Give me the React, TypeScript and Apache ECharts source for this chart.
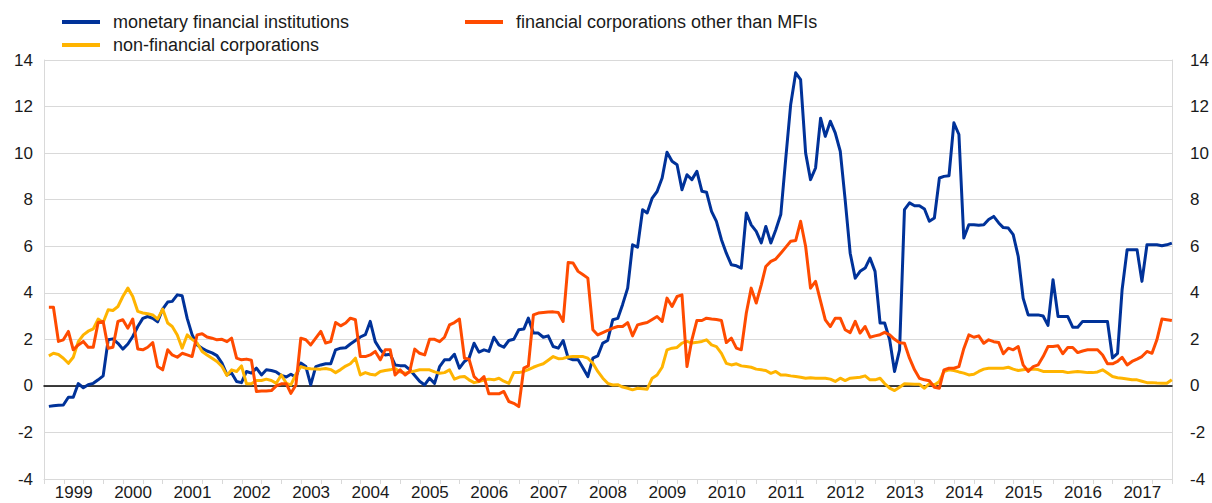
import React, { useEffect, useRef } from "react";
import * as echarts from "echarts";

// monthly observations, January 1999 to December 2017
const START_YEAR = 1999;

const mfi = [
  -0.88, -0.85, -0.83, -0.82, -0.49, -0.49, 0.1, -0.08, 0.05, 0.11, 0.26, 0.43,
  1.98, 2.02, 1.83, 1.58, 1.8, 2.12, 2.55, 2.9, 2.98, 2.9, 2.75, 3.3,
  3.6, 3.63, 3.91, 3.87, 2.9, 2.2, 1.76, 1.62, 1.5, 1.42, 1.3, 0.98,
  0.47, 0.55, 0.19, 0.14, 0.62, 0.55, 0.76, 0.47, 0.69, 0.66, 0.6, 0.45,
  0.38, 0.5, 0.37, 0.98, 0.83, 0.04, 0.83, 0.9, 0.95, 0.95, 1.55, 1.62,
  1.64, 1.8, 1.95, 2.1, 2.2, 2.77, 1.9, 1.55, 1.33, 1.36, 0.9, 0.87,
  0.86, 0.7, 0.45, 0.2, 0.04, 0.33, 0.11, 0.83, 1.12, 1.12, 1.36, 0.76,
  1.05, 1.19, 1.83, 1.45, 1.55, 1.48, 2.09, 1.76, 1.66, 1.95, 2.0, 2.41,
  2.44, 2.91, 2.27, 2.27, 2.09, 2.15, 1.69, 1.62, 1.95, 1.19, 1.12, 1.12,
  0.76, 0.4, 1.19, 1.29, 1.84, 1.95, 2.84, 2.9, 3.5, 4.2, 6.06, 5.96,
  7.57, 7.43, 8.07, 8.35, 8.93, 10.04, 9.65, 9.5, 8.43, 9.07, 8.86, 9.22,
  8.36, 8.32, 7.5, 7.07, 6.28, 5.7, 5.2, 5.16, 5.06, 7.43, 6.92, 6.64,
  6.14, 6.85, 6.14, 6.7, 7.36, 9.72, 12.09, 13.45, 13.16, 10.0, 8.86, 9.36,
  11.5, 10.72, 11.37, 10.87, 10.08, 8.0, 5.7, 4.63, 4.92, 5.06, 5.49, 4.92,
  2.7, 2.7, 1.98, 0.62, 1.55, 7.57, 7.86, 7.74, 7.74, 7.6, 7.07, 7.21,
  8.93, 9.0, 9.03, 11.3, 10.8, 6.35, 6.92, 6.92, 6.9, 6.92, 7.15, 7.28,
  7.0, 6.8, 6.78, 6.5, 5.56, 3.77, 3.05, 3.05, 3.05, 3.0, 2.6, 4.56,
  2.98, 2.98, 2.98, 2.52, 2.52, 2.77, 2.77, 2.77, 2.77, 2.77, 2.77, 1.2,
  1.4, 4.13, 5.85, 5.85, 5.85, 4.49, 6.06, 6.06, 6.06, 6.02, 6.06, 6.13,
];

const nfc = [
  1.29, 1.4, 1.35, 1.19, 0.97, 1.23, 1.9, 2.19, 2.35, 2.45, 2.87, 2.72,
  3.27, 3.24, 3.41, 3.84, 4.2, 3.84, 3.2, 3.13, 3.1, 3.05, 2.87, 3.3,
  2.7, 2.55, 2.19, 1.62, 2.19, 2.0, 1.84, 1.48, 1.33, 1.19, 1.05, 0.83,
  0.45, 0.69, 0.62, 0.86, 0.09, 0.09, 0.23, 0.23, 0.29, 0.23, 0.11, 0.47,
  0.11, 0.04, 0.5, 0.83, 0.76, 0.74, 0.73, 0.72, 0.75, 0.7, 0.57, 0.7,
  0.85, 0.95, 1.19, 0.47, 0.57, 0.5, 0.47, 0.62, 0.66, 0.69, 0.75, 0.6,
  0.54, 0.6, 0.64, 0.69, 0.69, 0.69, 0.6, 0.54, 0.57, 0.69, 0.29, 0.38,
  0.4, 0.26, 0.14, 0.19, 0.25, 0.29, 0.26, 0.33, 0.2, 0.11, 0.57, 0.57,
  0.62, 0.7, 0.8, 0.88, 0.95, 1.1, 1.26, 1.17, 1.18, 1.24, 1.26, 1.26,
  1.26, 1.19, 0.97, 0.62, 0.33, 0.11, 0.04, 0.05, -0.05, -0.1, -0.17, -0.1,
  -0.12, -0.14, 0.33, 0.47, 0.8, 1.55, 1.62, 1.65, 1.84, 1.91, 1.84, 1.87,
  1.91, 1.98, 1.76, 1.69, 1.4, 0.97, 0.9, 0.95, 0.86, 0.83, 0.8, 0.72,
  0.69, 0.66, 0.54, 0.62, 0.47, 0.47, 0.43, 0.4, 0.37, 0.33, 0.35, 0.33,
  0.33, 0.33, 0.29, 0.19, 0.33, 0.23, 0.33, 0.35, 0.37, 0.43, 0.26, 0.26,
  0.33, 0.1, -0.1, -0.2, -0.06, 0.09, 0.08, 0.07, 0.07, -0.1, 0.1, 0.04,
  0.19, 0.62, 0.69, 0.66, 0.6, 0.55, 0.47, 0.5, 0.62, 0.72, 0.76, 0.76,
  0.76, 0.76, 0.8, 0.72, 0.66, 0.69, 0.72, 0.72, 0.7, 0.62, 0.62, 0.62,
  0.62, 0.62, 0.57, 0.6, 0.62, 0.6, 0.57, 0.57, 0.6, 0.69, 0.55, 0.4,
  0.35, 0.33, 0.3, 0.26, 0.26, 0.2, 0.14, 0.14, 0.12, 0.11, 0.11, 0.26,
];

const ofi = [
  3.38, 3.38, 1.91, 1.98, 2.34, 1.55, 1.76, 1.91, 1.66, 1.66, 2.72, 2.77,
  1.62, 1.66, 2.77, 2.84, 2.48, 2.87, 1.58, 1.55, 1.66, 1.86, 0.83, 0.69,
  1.55, 1.33, 1.23, 1.4, 1.33, 1.26, 2.19, 2.24, 2.1, 2.05, 1.98, 2.0,
  1.9, 2.05, 1.19, 1.12, 1.15, 1.1, -0.24, -0.22, -0.22, -0.2, 0.0, 0.09,
  0.09, -0.32, 0.04, 2.05, 1.98, 1.76, 2.05, 2.34, 1.84, 1.9, 2.72, 2.58,
  2.7, 2.91, 2.84, 1.26, 1.26, 1.33, 1.48, 1.12, 1.55, 1.55, 0.47, 0.69,
  0.47, 0.62, 1.58, 1.4, 1.33, 2.0, 2.0, 1.9, 2.09, 2.62, 2.72, 2.87,
  1.19, 1.15, 0.4, 0.2, 0.4, -0.34, -0.34, -0.34, -0.24, -0.67, -0.75, -0.89,
  0.76, 0.86, 3.05, 3.13, 3.15, 3.17, 3.18, 3.15, 2.77, 5.3, 5.28, 4.92,
  4.77, 4.63, 2.41, 2.19, 2.29, 2.38, 2.48, 2.55, 2.55, 2.72, 2.15, 2.62,
  2.68, 2.72, 2.85, 2.98, 2.77, 3.77, 3.41, 3.84, 3.91, 0.83, 1.98, 2.81,
  2.81, 2.91, 2.87, 2.85, 2.81, 1.86, 2.05, 1.62, 1.55, 3.13, 4.2, 3.56,
  4.34, 5.13, 5.35, 5.45, 5.7, 5.95, 6.21, 6.25, 7.07, 5.99, 4.2, 4.49,
  3.63, 2.84, 2.55, 2.91, 2.91, 2.41, 2.29, 2.77, 2.27, 2.55, 2.09, 2.15,
  2.2, 2.3, 2.19, 2.0, 1.85, 1.83, 1.19, 0.69, 0.33, 0.26, 0.22, -0.06,
  -0.1, 0.69, 0.76, 0.76, 0.83, 1.6, 2.19, 2.09, 2.15, 1.83, 1.98, 1.9,
  1.86, 1.38, 1.62, 1.55, 1.69, 0.9, 0.62, 0.83, 0.9, 1.26, 1.69, 1.69,
  1.72, 1.38, 1.65, 1.65, 1.43, 1.5, 1.55, 1.55, 1.55, 1.33, 0.95, 0.95,
  1.05, 1.23, 0.9, 1.05, 1.15, 1.26, 1.48, 1.4, 1.98, 2.87, 2.84, 2.81,
];

const yearLabels = [
  "1999", "2000", "2001", "2002", "2003", "2004", "2005", "2006", "2007", "2008",
  "2009", "2010", "2011", "2012", "2013", "2014", "2015", "2016", "2017",
];

const yTicks = { min: -4, max: 14, interval: 2 };

const seriesNames = {
  mfi: "monetary financial institutions",
  nfc: "non-financial corporations",
  ofi: "financial corporations other than MFIs",
};

const colors = { mfi: "#003299", nfc: "#ffb400", ofi: "#ff4b00" };

// month-end dates for each observation
const monthEnd = (i: number) => new Date(START_YEAR, i + 1, 0).getTime();
const toPairs = (arr: number[]) => arr.map((v, i) => [monthEnd(i), v]);

// tick bins of four months each, three per year
const tickBins = yearLabels.flatMap((y) => [y, y, y]);

const FONT = "'Liberation Sans', Arial, Helvetica, sans-serif";
const GRID = "#d9d9d9";
const TEXT = "#1a1a1a";

export default function App() {
  const ref = useRef<HTMLDivElement>(null);

  useEffect(() => {
    if (!ref.current) return;
    const chart = echarts.init(ref.current, undefined, { renderer: "svg" });
    const lineSeries = (key: "mfi" | "nfc" | "ofi", data: number[], z: number) => ({
      name: seriesNames[key],
      type: "line",
      xAxisIndex: 0,
      yAxisIndex: 0,
      data: toPairs(data),
      showSymbol: false,
      symbol: "none",
      z,
      lineStyle: { color: colors[key], width: 3, join: "round" },
      itemStyle: { color: colors[key] },
    });

    const legendText = {
      fontFamily: FONT,
      fontSize: 18,
      color: TEXT,
      lineHeight: 18,
      padding: [0, 0, 0, 8],
    };

    chart.setOption({
      animation: false,
      textStyle: { fontFamily: FONT },
      grid: { left: 44, right: 40, top: 60, bottom: 24, containLabel: false },
      legend: [
        {
          orient: "vertical",
          left: 57,
          top: 8,
          itemWidth: 38,
          itemHeight: 4,
          itemGap: 5,
          icon: "rect",
          data: [seriesNames.mfi, seriesNames.nfc],
          textStyle: legendText,
        },
        {
          orient: "vertical",
          left: 460,
          top: 8,
          itemWidth: 38,
          itemHeight: 4,
          itemGap: 5,
          icon: "rect",
          data: [seriesNames.ofi],
          textStyle: legendText,
        },
      ],
      xAxis: [
        {
          type: "time",
          min: new Date(START_YEAR, 0, 1).getTime(),
          max: new Date(START_YEAR + yearLabels.length, 0, 1).getTime(),
          axisLine: {
            show: true,
            onZero: true,
            onZeroAxisIndex: 0,
            lineStyle: { color: "#000000", width: 1.5 },
          },
          axisTick: { show: false },
          axisLabel: { show: false },
          splitLine: { show: false },
        },
        {
          type: "category",
          data: tickBins,
          boundaryGap: true,
          position: "bottom",
          axisLine: { show: true, onZero: false, lineStyle: { color: GRID, width: 1 } },
          axisTick: {
            show: true,
            interval: 0,
            length: 5,
            lineStyle: { color: GRID, width: 1 },
          },
          axisLabel: {
            interval: (index: number) => index % 3 === 1,
            margin: 5,
            fontSize: 17,
            color: TEXT,
            fontFamily: FONT,
          },
          splitLine: { show: false },
        },
      ],
      yAxis: [
        {
          type: "value",
          position: "left",
          ...yTicks,
          axisLine: { show: true, lineStyle: { color: GRID, width: 1 } },
          axisTick: { show: false },
          axisLabel: { margin: 11, fontSize: 17, color: TEXT, fontFamily: FONT },
          splitLine: { show: true, lineStyle: { color: GRID, width: 1 } },
        },
        {
          type: "value",
          position: "right",
          ...yTicks,
          axisLine: { show: true, lineStyle: { color: GRID, width: 1 } },
          axisTick: { show: false },
          axisLabel: { margin: 18, fontSize: 17, color: TEXT, fontFamily: FONT },
          splitLine: { show: false },
        },
      ],
      series: [lineSeries("mfi", mfi, 2), lineSeries("nfc", nfc, 3), lineSeries("ofi", ofi, 4)],
    });
    return () => chart.dispose();
  }, []);

  return (
    <div
      ref={ref}
      style={{ position: "absolute", left: 0, top: 0, width: 1212, height: 503 }}
    />
  );
}
